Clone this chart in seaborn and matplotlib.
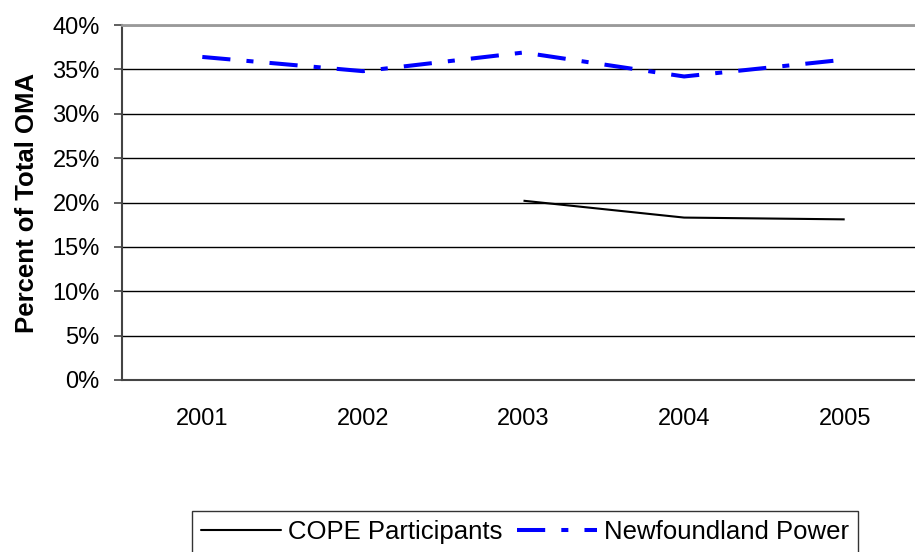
import matplotlib
matplotlib.use("Agg")
import matplotlib.pyplot as plt
from matplotlib.ticker import PercentFormatter, MultipleLocator
from matplotlib.lines import Line2D
import numpy as np
import pandas as pd
import seaborn as sns

years = [2001, 2002, 2003, 2004, 2005]
year_labels = ["2001", "2002", "2003", "2004", "2005"]
cope_participants = [np.nan, np.nan, 20.2, 18.3, 18.1]
newfoundland_power = [36.4, 34.8, 36.9, 34.2, 36.1]

series_names = ["COPE Participants", "Newfoundland Power"]

df = pd.DataFrame({
    "Year": years * 2,
    "Share": cope_participants + newfoundland_power,
    "Series": [series_names[0]] * len(years) + [series_names[1]] * len(years),
})
df = df.dropna()

sns.set_theme(style="white")
plt.rcParams["font.family"] = ["Liberation Sans", "DejaVu Sans"]
plt.rcParams["text.color"] = "black"
plt.rcParams["xtick.color"] = "black"
plt.rcParams["ytick.color"] = "black"
plt.rcParams["axes.labelcolor"] = "black"

fig = plt.figure(figsize=(9.15, 5.52), dpi=100)
ax = fig.add_axes([122 / 915, 1 - 380 / 552, 803 / 915, 355 / 552])

blue_dash = (7, 4, 1.75, 4)
sns.lineplot(
    data=df, x="Year", y="Share", hue="Series", style="Series",
    palette={series_names[0]: "black", series_names[1]: "#0000FF"},
    dashes={series_names[0]: "", series_names[1]: blue_dash},
    size="Series", sizes={series_names[0]: 1.5, series_names[1]: 2.9},
    ax=ax, legend=False,
)
for ln in ax.get_lines():
    ln.set_dash_capstyle("butt")
    ln.set_solid_capstyle("butt")

ax.set_xlim(years[0] - 0.5, years[-1] + 0.5)
ax.set_xticks(years)
ax.set_xticklabels(year_labels)
ax.set_ylim(0, 40)
ax.yaxis.set_major_locator(MultipleLocator(5))
ax.yaxis.set_major_formatter(PercentFormatter(100, decimals=0))
ax.grid(axis="y", color="black", linewidth=1.0)
ax.set_axisbelow(True)

ax.set_xlabel("")
ax.set_ylabel("Percent of Total OMA", fontsize=18.5, fontweight="bold", labelpad=10)

ax.tick_params(axis="y", which="major", length=6, width=1.2, color="#444444",
               direction="out", labelsize=17, pad=10, left=True)
ax.tick_params(axis="x", which="major", length=0, labelsize=17, pad=20)

for side in ["left", "bottom"]:
    ax.spines[side].set_color("#444444")
    ax.spines[side].set_linewidth(1.5)
ax.spines["top"].set_color("#999999")
ax.spines["top"].set_linewidth(2)
ax.spines["right"].set_visible(False)

handles = [
    Line2D([], [], color="black", linewidth=1.5),
    Line2D([], [], color="#0000FF", linewidth=2.9, dashes=blue_dash,
           dash_capstyle="butt"),
]
leg = fig.legend(
    handles, series_names, loc="upper left",
    bbox_to_anchor=(192 / 915, 1 - 511 / 552), borderaxespad=0,
    ncol=2, fontsize=18.5, frameon=True, fancybox=False,
    handlelength=3.1, handletextpad=0.3, columnspacing=0.55,
    borderpad=0.35,
)
leg.get_frame().set_edgecolor("black")
leg.get_frame().set_linewidth(1.0)

fig.savefig("out.png", dpi=100)
